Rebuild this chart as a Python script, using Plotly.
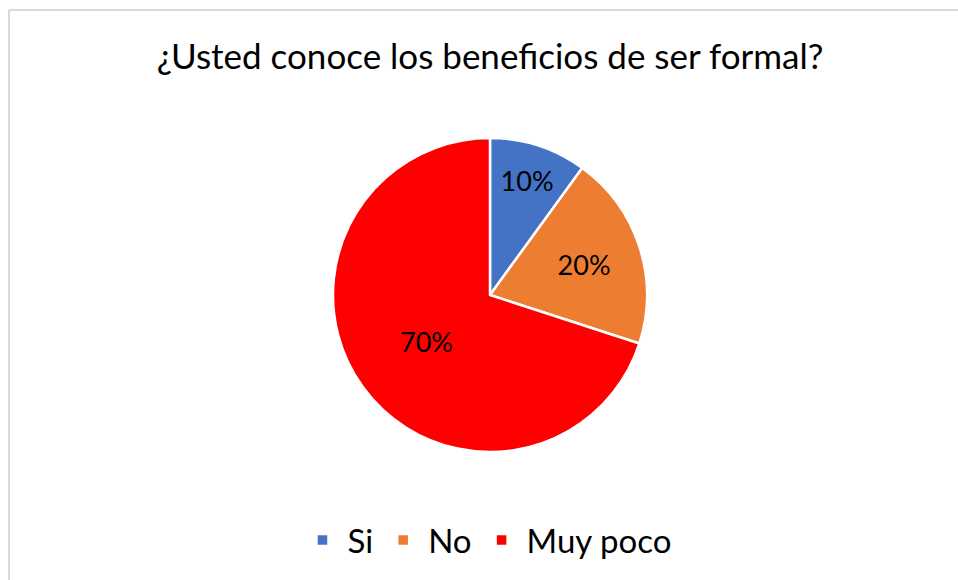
import plotly.graph_objects as go

labels = ["Si", "No", "Muy poco"]
values = [10, 20, 70]
colors = ["#4472C4", "#ED7D31", "#FF0000"]
title_text = "¿Usted conoce los beneficios de ser formal?"

W, H = 958, 580
FONT = "Lato, 'Open Sans', sans-serif"

fig = go.Figure(
    go.Pie(
        labels=labels,
        values=values,
        sort=False,
        direction="clockwise",
        rotation=0,
        marker=dict(colors=colors, line=dict(color="white", width=2.5)),
        texttemplate="%{percent:.0%}",
        textposition="inside",
        insidetextorientation="horizontal",
        textfont=dict(family=FONT, size=27, color="black"),
        domain=dict(x=[333 / W, 647 / W], y=[1 - 452 / H, 1 - 138 / H]),
        hoverinfo="label+percent",
    )
)

fig.update_layout(
    width=W,
    height=H,
    margin=dict(l=0, r=0, t=0, b=0),
    paper_bgcolor="white",
    plot_bgcolor="white",
    title=dict(
        text=title_text,
        x=490 / W,
        xanchor="center",
        y=1 - 57 / H,
        yanchor="middle",
        font=dict(family=FONT, size=35, color="black"),
    ),
    legend=dict(
        orientation="h",
        x=487 / W,
        xanchor="center",
        y=1 - 540 / H,
        yanchor="middle",
        font=dict(family=FONT, size=33, color="black"),
        itemwidth=40,
        traceorder="normal",
    ),
    shapes=[
        dict(type="line", xref="paper", yref="paper", x0=9 / W, x1=1, y0=1 - 10 / H, y1=1 - 10 / H,
             line=dict(color="#D9D9D9", width=2)),
        dict(type="line", xref="paper", yref="paper", x0=9 / W, x1=9 / W, y0=0, y1=1 - 10 / H,
             line=dict(color="#D9D9D9", width=2)),
    ],
)

fig.write_html(
    "out.html",
    config={"displayModeBar": False},
    post_script="document.body.style.margin='0';document.body.style.overflow='hidden';",
)
